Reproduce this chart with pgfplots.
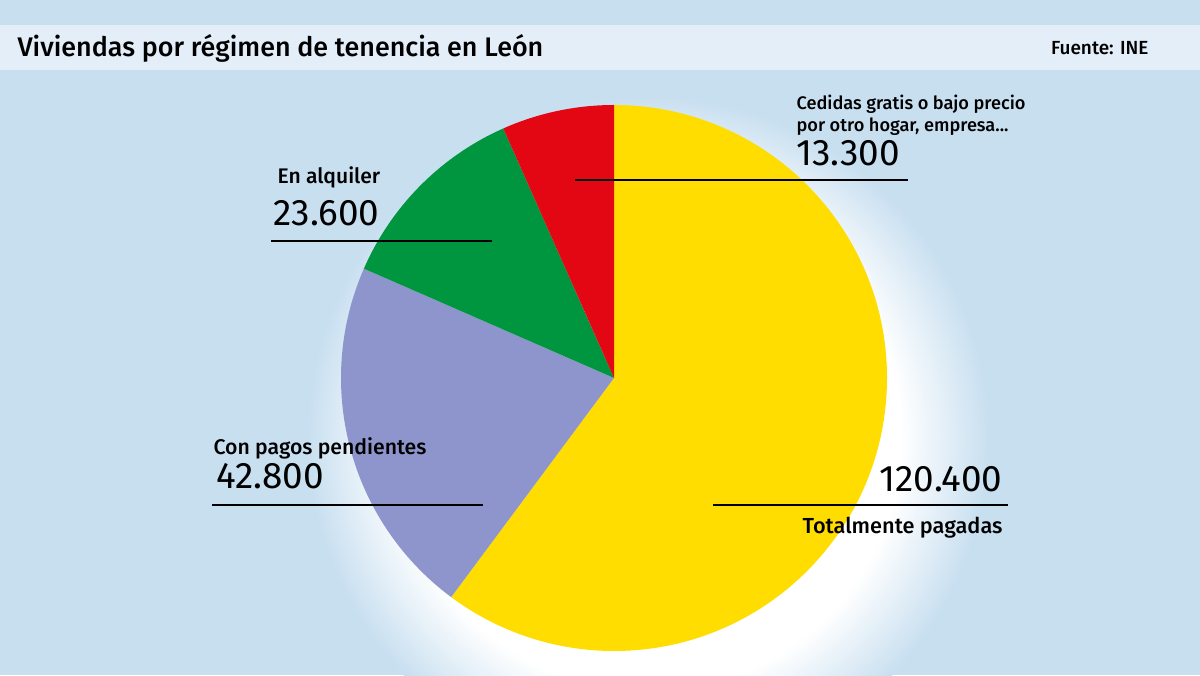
\documentclass[border=0pt]{standalone}
\usepackage{pgfplots}
\pgfplotsset{compat=1.18}
\usepackage{fontspec}
\setmainfont{Fira Sans}
\newfontfamily\med{Fira Sans}[UprightFont=* Medium]
\definecolor{bgc}{HTML}{C8DFF0}
\definecolor{bandc}{HTML}{E3EEF8}
\definecolor{yel}{HTML}{FFDD00}
\definecolor{redc}{HTML}{E30613}
\definecolor{grn}{HTML}{00963F}
\definecolor{pur}{HTML}{8E95CC}
\pgfdeclareradialshading{glow}{\pgfpoint{0bp}{0bp}}{color(0bp)=(white);color(18.5bp)=(white);color(25bp)=(bgc);color(50bp)=(bgc)}
% values in thousands of dwellings
\def\vA{120.4}% Totalmente pagadas
\def\vB{42.8}% Con pagos pendientes
\def\vC{23.6}% En alquiler
\def\vD{13.3}% Cedidas
\pgfmathsetmacro\tot{\vA+\vB+\vC+\vD}
\pgfmathsetmacro\aA{90}
\pgfmathsetmacro\aB{\aA-360*(\vA/\tot)}
\pgfmathsetmacro\aC{\aB-360*(\vB/\tot)}
\pgfmathsetmacro\aD{\aC-360*(\vC/\tot)}
\pgfmathsetmacro\aE{\aD-360*(\vD/\tot)}
\def\R{3.64cm}
\newcommand\fs[1]{\fontsize{#1}{1.2\dimexpr#1\relax}\selectfont}
\begin{document}
\begin{tikzpicture}
\begin{axis}[width=16cm,height=9cm,scale only axis,hide axis,clip=false,
  xmin=0,xmax=1200,ymin=0,ymax=675]
\fill[bgc] (axis cs:0,0) rectangle (axis cs:1200,675);
\begin{scope}
\clip (axis cs:0,0) rectangle (axis cs:1200,675);
\shade[shading=glow] (axis cs:648,238) circle[radius=4.55cm];
\end{scope}
\fill[bandc] (axis cs:0,605) rectangle (axis cs:1200,650);
\node[anchor=base west,inner sep=0pt,font=\med\fs{10.2pt}] at (axis cs:17,618) {Viviendas por régimen de tenencia en León};
\node[anchor=base east,inner sep=0pt,font=\med\fs{7.2pt}] at (axis cs:1149,620) {Fuente: INE};
% pie
\fill[yel] (axis cs:614,297) -- ++(\aA:\R) arc[start angle=\aA,end angle=\aB,radius=\R] -- cycle;
\fill[pur] (axis cs:614,297) -- ++(\aB:\R) arc[start angle=\aB,end angle=\aC,radius=\R] -- cycle;
\fill[grn] (axis cs:614,297) -- ++(\aC:\R) arc[start angle=\aC,end angle=\aD,radius=\R] -- cycle;
\fill[redc] (axis cs:614,297) -- ++(\aD:\R) arc[start angle=\aD,end angle=\aE,radius=\R] -- cycle;
% leader lines
\draw[line width=1.1pt] (axis cs:575,495) -- (axis cs:908,495);
\draw[line width=1.1pt] (axis cs:271,434) -- (axis cs:492,434);
\draw[line width=1.1pt] (axis cs:212,170) -- (axis cs:483,170);
\draw[line width=1.1pt] (axis cs:713,170) -- (axis cs:1008,170);
% labels
\node[anchor=base west,inner sep=0pt,font=\med\fs{6.9pt}] at (axis cs:796,565) {Cedidas gratis o bajo precio};
\node[anchor=base west,inner sep=0pt,font=\med\fs{6.9pt}] at (axis cs:796,543) {por otro hogar, empresa...};
\node[anchor=base west,inner sep=0pt,font=\fs{14pt}] at (axis cs:796,509) {13.300};
\node[anchor=base west,inner sep=0pt,font=\med\fs{8pt}] at (axis cs:277,491) {En alquiler};
\node[anchor=base west,inner sep=0pt,font=\fs{14pt}] at (axis cs:273,449) {23.600};
\node[anchor=base west,inner sep=0pt,font=\med\fs{8.05pt}] at (axis cs:213,220) {Con pagos pendientes};
\node[anchor=base west,inner sep=0pt,font=\fs{14pt}] at (axis cs:216,187) {42.800};
\node[anchor=base east,inner sep=0pt,font=\fs{14pt}] at (axis cs:1003,184) {120.400};
\node[anchor=base east,inner sep=0pt,font=\med\fs{8.25pt}] at (axis cs:1003,142) {Totalmente pagadas};
\end{axis}
\end{tikzpicture}
\end{document}
